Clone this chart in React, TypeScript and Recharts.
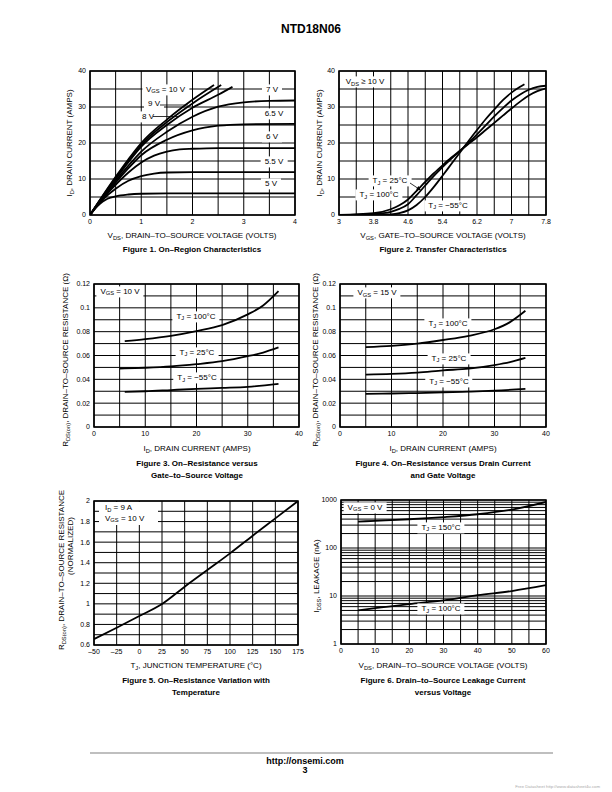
import React from 'react';
import { LineChart, Line, XAxis, YAxis, CartesianGrid, ReferenceArea } from 'recharts';

const FONT = '"Liberation Sans", Arial, Helvetica, sans-serif';

// ---------- Figure 1: On-Region Characteristics ----------
const F1_X_TICKS = [0, 0.5, 1, 1.5, 2, 2.5, 3, 3.5, 4];
const F1_X_LABELS = [0, 1, 2, 3, 4];
const F1_Y_TICKS = [0, 5, 10, 15, 20, 25, 30, 35, 40];
const F1_Y_LABELS = [0, 10, 20, 30, 40];
const F1_VDS_10V = [0, 0.25, 0.5, 0.75, 1, 1.5, 2, 2.42];
const F1_ID_10V = [0, 5.4, 10.6, 15.5, 20, 26.5, 32, 36.1];
const F1_VDS_9V = [0, 0.25, 0.5, 0.75, 1, 1.5, 2, 2.56];
const F1_ID_9V = [0, 5.3, 10.3, 15, 19.5, 25.8, 31, 36.1];
const F1_VDS_8V = [0, 0.25, 0.5, 0.75, 1, 1.5, 2, 2.5, 2.78];
const F1_ID_8V = [0, 5.2, 10, 14.7, 19, 25, 29.8, 33.4, 35.6];
const F1_VDS_7V = [0, 0.25, 0.5, 0.75, 1, 1.5, 2, 2.5, 3, 3.5, 4];
const F1_ID_7V = [0, 5, 9.5, 13.7, 17.6, 23.1, 27.3, 30.1, 31.3, 31.7, 31.8];
const F1_VDS_65V = [0, 0.25, 0.5, 0.75, 1, 1.5, 2, 2.5, 3, 4];
const F1_ID_65V = [0, 4.8, 9, 13, 16.6, 20.9, 23.5, 24.8, 25.2, 25.3];
const F1_VDS_6V = [0, 0.25, 0.5, 0.75, 1, 1.25, 1.5, 1.75, 2, 2.5, 4];
const F1_ID_6V = [0, 4.6, 8.4, 11.8, 14.6, 16.5, 17.6, 18.2, 18.4, 18.6, 18.6];
const F1_VDS_55V = [0, 0.25, 0.5, 0.75, 1, 1.25, 1.5, 2, 4];
const F1_ID_55V = [0, 4.3, 7.3, 9.5, 10.8, 11.5, 11.8, 11.9, 11.9];
const F1_VDS_5V = [0, 0.1, 0.2, 0.3, 0.4, 0.5, 0.75, 1, 1.5, 4];
const F1_ID_5V = [0, 1.8, 3.2, 4.2, 4.8, 5.2, 5.7, 5.9, 6.0, 6.0];

// ---------- Figure 2: Transfer Characteristics ----------
const F2_X_TICKS = [3, 3.4, 3.8, 4.2, 4.6, 5, 5.4, 5.8, 6.2, 6.6, 7, 7.4, 7.8];
const F2_X_LABELS = [3, 3.8, 4.6, 5.4, 6.2, 7, 7.8];
const F2_Y_TICKS = [0, 5, 10, 15, 20, 25, 30, 35, 40];
const F2_Y_LABELS = [0, 10, 20, 30, 40];
const F2_VGS_M55 = [3, 3.8, 4.2, 4.4, 4.6, 4.8, 5.0, 5.2, 5.4, 5.6, 5.8, 6.0, 6.2, 6.4, 6.6, 6.8, 7.0, 7.2, 7.3];
const F2_ID_M55 = [0, 0.05, 0.2, 0.55, 1.3, 2.8, 5.0, 7.8, 10.9, 14.1, 17.3, 20.5, 23.6, 26.6, 29.3, 31.9, 34.0, 35.6, 36.3];
const F2_VGS_25 = [3, 3.8, 4.2, 4.4, 4.6, 4.8, 5.0, 5.2, 5.4, 5.6, 5.8, 6.0, 6.2, 6.4, 6.6, 6.8, 7.0, 7.2, 7.4, 7.6, 7.8];
const F2_ID_25 = [0, 0.3, 0.9, 1.7, 3.0, 5.5, 8.2, 10.9, 13.3, 15.6, 17.8, 20.0, 22.4, 24.9, 27.4, 29.7, 31.8, 33.5, 34.8, 35.6, 35.9];
const F2_VGS_100 = [3, 3.8, 4.2, 4.4, 4.6, 4.8, 5.0, 5.2, 5.4, 5.6, 5.8, 6.0, 6.2, 6.4, 6.6, 6.8, 7.0, 7.2, 7.4, 7.6, 7.8];
const F2_ID_100 = [0, 0.5, 1.6, 2.7, 4.3, 6.7, 9.2, 11.6, 13.8, 15.9, 17.8, 19.7, 21.6, 23.6, 25.6, 27.6, 29.6, 31.5, 33.2, 34.4, 35.2];

// ---------- Figure 3: RDS(on) vs ID, VGS = 10 V ----------
const F34_X_TICKS = [0, 5, 10, 15, 20, 25, 30, 35, 40];
const F34_X_LABELS = [0, 10, 20, 30, 40];
const F34_Y_TICKS = [0, 0.01, 0.02, 0.03, 0.04, 0.05, 0.06, 0.07, 0.08, 0.09, 0.1, 0.11, 0.12];
const F34_Y_LABELS = [0, 0.02, 0.04, 0.06, 0.08, 0.1, 0.12];
const F3_ID_100 = [6, 10, 15, 20, 25, 30, 33, 36];
const F3_R_100 = [0.072, 0.0737, 0.0765, 0.0805, 0.0855, 0.0945, 0.102, 0.114];
const F3_ID_25 = [5, 10, 15, 20, 25, 30, 33, 36];
const F3_R_25 = [0.049, 0.0497, 0.0508, 0.0527, 0.0552, 0.0594, 0.0625, 0.0668];
const F3_ID_M55 = [6, 10, 15, 20, 25, 30, 36];
const F3_R_M55 = [0.0295, 0.03, 0.031, 0.032, 0.0328, 0.0337, 0.0362];

// ---------- Figure 4: RDS(on) vs ID, VGS = 15 V ----------
const F4_ID_100 = [5, 10, 15, 20, 25, 30, 33, 36];
const F4_R_100 = [0.067, 0.068, 0.07, 0.073, 0.0765, 0.082, 0.088, 0.0975];
const F4_ID_25 = [5, 10, 15, 20, 25, 30, 33, 36];
const F4_R_25 = [0.044, 0.0446, 0.0457, 0.0475, 0.049, 0.052, 0.0545, 0.058];
const F4_ID_M55 = [5, 10, 15, 20, 25, 30, 36];
const F4_R_M55 = [0.0278, 0.0281, 0.0285, 0.029, 0.0297, 0.0305, 0.032];

// ---------- Figure 5: Normalized RDS(on) vs TJ ----------
const F5_X_TICKS = [-50, -25, 0, 25, 50, 75, 100, 125, 150, 175];
const F5_Y_TICKS = [0.6, 0.7, 0.8, 0.9, 1, 1.1, 1.2, 1.3, 1.4, 1.5, 1.6, 1.7, 1.8, 1.9, 2];
const F5_Y_LABELS = [0.6, 0.8, 1, 1.2, 1.4, 1.6, 1.8, 2];
const F5_TJ = [-50, -25, 0, 25, 50, 75, 100, 125, 150, 175];
const F5_R = [0.658, 0.768, 0.882, 0.999, 1.167, 1.329, 1.491, 1.663, 1.831, 2.0];

// ---------- Figure 6: IDSS leakage vs VDS ----------
const F6_X_TICKS = [0, 5, 10, 15, 20, 25, 30, 35, 40, 45, 50, 55, 60];
const F6_X_LABELS = [0, 10, 20, 30, 40, 50, 60];
const F6_Y_TICKS = [1, 2, 3, 4, 5, 6, 7, 8, 9, 10, 20, 30, 40, 50, 60, 70, 80, 90, 100, 200, 300, 400, 500, 600, 700, 800, 900, 1000];
const F6_Y_LABELS = [1, 10, 100, 1000];
const F6_VDS_150 = [5, 10, 20, 30, 40, 50, 60];
const F6_I_150 = [355, 368, 397, 440, 505, 630, 910];
const F6_VDS_100 = [5, 10, 20, 30, 40, 50, 60];
const F6_I_100 = [5.0, 5.6, 6.8, 8.1, 10.4, 12.7, 16.8];

const zip = (xs: number[], ys: number[]) => xs.map((x, i) => ({ x, y: ys[i] }));

const YW = 40;
const MT = 4;
const MR = 12;
const XH = 20;

const fmt = (labels: number[]) => (v: number) =>
  labels.includes(v) ? (v < 0 ? '\u2013' + Math.abs(v) : String(v)) : '';

type Pt = { x: number; y: number };
type PanelProps = {
  left: number;
  top: number;
  w: number;
  h: number;
  xDomain: [number, number];
  yDomain: [number, number];
  xTicks: number[];
  xLabels: number[];
  yTicks: number[];
  yLabels: number[];
  yLog?: boolean;
  series: Pt[][];
};

function Panel(p: PanelProps) {
  const tickStyle = { fontSize: 7, fill: '#000', fontFamily: FONT };
  return (
    <div style={{ position: 'absolute', left: p.left - YW, top: p.top - MT }}>
      <LineChart width={YW + p.w + MR} height={MT + p.h + XH} margin={{ top: MT, right: MR, bottom: 0, left: 0 }}>
        <CartesianGrid stroke="#000" strokeWidth={1} />
        <XAxis
          type="number"
          dataKey="x"
          domain={p.xDomain}
          ticks={p.xTicks}
          interval={0}
          allowDataOverflow
          tickLine={false}
          axisLine={false}
          tickSize={2}
          tickMargin={2}
          height={XH}
          tick={tickStyle}
          tickFormatter={fmt(p.xLabels)}
        />
        <YAxis
          type="number"
          dataKey="y"
          domain={p.yDomain}
          ticks={p.yTicks}
          interval={0}
          allowDataOverflow
          scale={p.yLog ? 'log' : 'auto'}
          tickLine={false}
          axisLine={false}
          tickSize={2}
          tickMargin={2}
          width={YW}
          tick={tickStyle}
          tickFormatter={fmt(p.yLabels)}
        />
        <ReferenceArea
          x1={p.xDomain[0]}
          x2={p.xDomain[1]}
          y1={p.yDomain[0]}
          y2={p.yDomain[1]}
          fill="#fff"
          fillOpacity={0}
          stroke="#000"
          strokeWidth={1.6}
          ifOverflow="visible"
        />
        {p.series.map((d, i) => (
          <Line
            key={i}
            data={d}
            dataKey="y"
            type="monotone"
            stroke="#000"
            strokeWidth={1.8}
            dot={false}
            activeDot={false}
            isAnimationActive={false}
          />
        ))}
      </LineChart>
    </div>
  );
}

type TxtProps = {
  x: number;
  y: number;
  size?: number;
  bold?: boolean;
  rot?: boolean;
  box?: boolean;
  color?: string;
  children: React.ReactNode;
};

function Txt({ x, y, size = 8, bold, rot, box, color = '#000', children }: TxtProps) {
  return (
    <div
      style={{
        position: 'absolute',
        left: x,
        top: y,
        transform: `translate(-50%, -50%)${rot ? ' rotate(-90deg)' : ''}`,
        whiteSpace: 'nowrap',
        fontFamily: FONT,
        fontSize: size,
        fontWeight: bold ? 700 : 400,
        lineHeight: 1.15,
        color,
        background: box ? '#fff' : 'transparent',
        padding: box ? '1px 4px' : 0,
      }}
    >
      {children}
    </div>
  );
}

const Sub = ({ children }: { children: React.ReactNode }) => (
  <span style={{ fontSize: '0.72em', position: 'relative', top: '0.3em' }}>{children}</span>
);

export default function App() {
  return (
    <div style={{ position: 'absolute', left: 0, top: 0, width: 612, height: 792, background: '#fff', overflow: 'hidden' }}>
      <Txt x={311} y={30} size={12} bold>NTD18N06</Txt>

      {/* Figure 1 */}
      <Panel
        left={90} top={71} w={205} h={144}
        xDomain={[0, 4]} yDomain={[0, 40]}
        xTicks={F1_X_TICKS} xLabels={F1_X_LABELS} yTicks={F1_Y_TICKS} yLabels={F1_Y_LABELS}
        series={[
          zip(F1_VDS_10V, F1_ID_10V), zip(F1_VDS_9V, F1_ID_9V), zip(F1_VDS_8V, F1_ID_8V),
          zip(F1_VDS_7V, F1_ID_7V), zip(F1_VDS_65V, F1_ID_65V), zip(F1_VDS_6V, F1_ID_6V),
          zip(F1_VDS_55V, F1_ID_55V), zip(F1_VDS_5V, F1_ID_5V),
        ]}
      />
      <Txt x={165.5} y={89.5} box>V<Sub>GS</Sub> = 10 V</Txt>
      <Txt x={154} y={104} box>9 V</Txt>
      <Txt x={148} y={116.5} box>8 V</Txt>
      <Txt x={272} y={90} box>7 V</Txt>
      <Txt x={274} y={113.5} box>6.5 V</Txt>
      <Txt x={272} y={137} box>6 V</Txt>
      <Txt x={274} y={162} box>5.5 V</Txt>
      <Txt x={271} y={184} box>5 V</Txt>
      <Txt x={192} y={236}>V<Sub>DS</Sub>, DRAIN–TO–SOURCE VOLTAGE (VOLTS)</Txt>
      <Txt x={70} y={143} rot>I<Sub>D</Sub>, DRAIN CURRENT (AMPS)</Txt>
      <Txt x={192} y={250} bold>Figure 1. On–Region Characteristics</Txt>

      {/* Figure 2 */}
      <Panel
        left={339} top={71} w={207} h={144}
        xDomain={[3, 7.8]} yDomain={[0, 40]}
        xTicks={F2_X_TICKS} xLabels={F2_X_LABELS} yTicks={F2_Y_TICKS} yLabels={F2_Y_LABELS}
        series={[zip(F2_VGS_M55, F2_ID_M55), zip(F2_VGS_25, F2_ID_25), zip(F2_VGS_100, F2_ID_100)]}
      />
      <Txt x={365} y={82} box>V<Sub>DS</Sub> ≥ 10 V</Txt>
      <Txt x={390} y={181} box>T<Sub>J</Sub> = 25°C</Txt>
      <Txt x={379} y={195} box>T<Sub>J</Sub> = 100°C</Txt>
      <Txt x={448} y={205.5} box>T<Sub>J</Sub> = −55°C</Txt>
      <Txt x={443} y={236}>V<Sub>GS</Sub>, GATE–TO–SOURCE VOLTAGE (VOLTS)</Txt>
      <Txt x={320} y={143} rot>I<Sub>D</Sub>, DRAIN CURRENT (AMPS)</Txt>
      <Txt x={443} y={250} bold>Figure 2. Transfer Characteristics</Txt>

      {/* Figure 3 */}
      <Panel
        left={94} top={284} w={205} h={143}
        xDomain={[0, 40]} yDomain={[0, 0.12]}
        xTicks={F34_X_TICKS} xLabels={F34_X_LABELS} yTicks={F34_Y_TICKS} yLabels={F34_Y_LABELS}
        series={[zip(F3_ID_100, F3_R_100), zip(F3_ID_25, F3_R_25), zip(F3_ID_M55, F3_R_M55)]}
      />
      <Txt x={120} y={291.5} box>V<Sub>GS</Sub> = 10 V</Txt>
      <Txt x={196} y={316.5} box>T<Sub>J</Sub> = 100°C</Txt>
      <Txt x={197} y={352.5} box>T<Sub>J</Sub> = 25°C</Txt>
      <Txt x={197} y={378} box>T<Sub>J</Sub> = −55°C</Txt>
      <Txt x={197} y={449}>I<Sub>D</Sub>, DRAIN CURRENT (AMPS)</Txt>
      <Txt x={66} y={360} rot>R<Sub>DS(on)</Sub>, DRAIN–TO–SOURCE RESISTANCE (Ω)</Txt>
      <Txt x={197} y={464} bold>Figure 3. On–Resistance versus</Txt>
      <Txt x={197} y={475.5} bold>Gate–to–Source Voltage</Txt>

      {/* Figure 4 */}
      <Panel
        left={340} top={284} w={206} h={143}
        xDomain={[0, 40]} yDomain={[0, 0.12]}
        xTicks={F34_X_TICKS} xLabels={F34_X_LABELS} yTicks={F34_Y_TICKS} yLabels={F34_Y_LABELS}
        series={[zip(F4_ID_100, F4_R_100), zip(F4_ID_25, F4_R_25), zip(F4_ID_M55, F4_R_M55)]}
      />
      <Txt x={377} y={293} box>V<Sub>GS</Sub> = 15 V</Txt>
      <Txt x={448} y={324} box>T<Sub>J</Sub> = 100°C</Txt>
      <Txt x={449} y={358.5} box>T<Sub>J</Sub> = 25°C</Txt>
      <Txt x={449} y={381.5} box>T<Sub>J</Sub> = −55°C</Txt>
      <Txt x={443} y={449}>I<Sub>D</Sub>, DRAIN CURRENT (AMPS)</Txt>
      <Txt x={316} y={360} rot>R<Sub>DS(on)</Sub>, DRAIN–TO–SOURCE RESISTANCE (Ω)</Txt>
      <Txt x={443} y={464} bold>Figure 4. On–Resistance versus Drain Current</Txt>
      <Txt x={443} y={475.5} bold>and Gate Voltage</Txt>

      {/* Figure 5 */}
      <Panel
        left={94} top={501} w={204} h={144}
        xDomain={[-50, 175]} yDomain={[0.6, 2]}
        xTicks={F5_X_TICKS} xLabels={F5_X_TICKS} yTicks={F5_Y_TICKS} yLabels={F5_Y_LABELS}
        series={[zip(F5_TJ, F5_R)]}
      />
      <div
        style={{
          position: 'absolute', left: 99, top: 502, width: 59, height: 23, background: '#fff',
          fontFamily: FONT, fontSize: 8, lineHeight: '10.5px', paddingLeft: 6, paddingTop: 1, boxSizing: 'border-box',
        }}
      >
        <div>I<Sub>D</Sub> = 9 A</div>
        <div>V<Sub>GS</Sub> = 10 V</div>
      </div>
      <Txt x={196} y={666}>T<Sub>J</Sub>, JUNCTION TEMPERATURE (°C)</Txt>
      <Txt x={62} y={570} rot>R<Sub>DS(on)</Sub>, DRAIN–TO–SOURCE RESISTANCE</Txt>
      <Txt x={70.5} y={546} rot>(NORMALIZED)</Txt>
      <Txt x={196} y={681} bold>Figure 5. On–Resistance Variation with</Txt>
      <Txt x={196} y={692.5} bold>Temperature</Txt>

      {/* Figure 6 */}
      <Panel
        left={341} top={500} w={205} h={144}
        xDomain={[0, 60]} yDomain={[1, 1000]} yLog
        xTicks={F6_X_TICKS} xLabels={F6_X_LABELS} yTicks={F6_Y_TICKS} yLabels={F6_Y_LABELS}
        series={[zip(F6_VDS_150, F6_I_150), zip(F6_VDS_100, F6_I_100)]}
      />
      <Txt x={365} y={507.5} box>V<Sub>GS</Sub> = 0 V</Txt>
      <Txt x={441} y={527.5} box>T<Sub>J</Sub> = 150°C</Txt>
      <Txt x={441} y={609} box>T<Sub>J</Sub> = 100°C</Txt>
      <Txt x={443} y={666}>V<Sub>DS</Sub>, DRAIN–TO–SOURCE VOLTAGE (VOLTS)</Txt>
      <Txt x={317} y={576} rot>I<Sub>DSS</Sub>, LEAKAGE (nA)</Txt>
      <Txt x={443} y={681} bold>Figure 6. Drain–to–Source Leakage Current</Txt>
      <Txt x={443} y={692.5} bold>versus Voltage</Txt>

      {/* leaders, arrow and footer rule */}
      <svg width={612} height={792} style={{ position: 'absolute', left: 0, top: 0, pointerEvents: 'none' }}>
        <line x1={160} y1={105} x2={188} y2={105} stroke="#000" strokeWidth={0.8} />
        <line x1={153} y1={116.5} x2={179} y2={116.5} stroke="#000" strokeWidth={0.8} />
        <line x1={410} y1={183} x2={419} y2={189} stroke="#000" strokeWidth={0.8} />
        <polygon points="421,190.5 416,189.5 418.5,186" fill="#000" />
        <line x1={90} y1={753} x2={553} y2={753} stroke="#aaa" strokeWidth={1.5} />
      </svg>

      <Txt x={305} y={761} size={9} bold>http://onsemi.com</Txt>
      <Txt x={305} y={770} size={9} bold>3</Txt>
      <div
        style={{
          position: 'absolute', right: 12, top: 784, fontFamily: FONT, fontSize: 4.3, color: '#aaa', whiteSpace: 'nowrap',
        }}
      >
        Free Datasheet http://www.datasheet4u.com
      </div>
    </div>
  );
}
